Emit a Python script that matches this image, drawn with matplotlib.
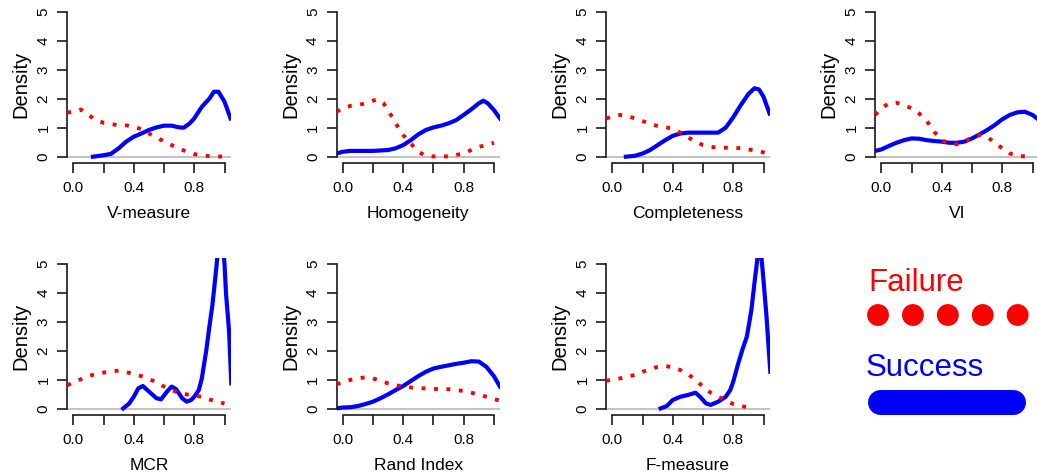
import matplotlib
matplotlib.use("Agg")
import matplotlib.pyplot as plt

plt.rcParams['font.family'] = ['Liberation Sans', 'DejaVu Sans']

# ---------------- data ----------------
titles = ["V-measure", "Homogeneity", "Completeness", "VI",
          "MCR", "Rand Index", "F-measure"]

vm_sx = [0.13, 0.2, 0.25, 0.3, 0.35, 0.4, 0.45, 0.5, 0.55, 0.6, 0.65, 0.7, 0.73, 0.77, 0.8, 0.85, 0.9, 0.93, 0.96, 1.0, 1.04]
vm_sy = [0.0, 0.05, 0.1, 0.29, 0.52, 0.69, 0.8, 0.92, 1.01, 1.07, 1.07, 1.01, 1.0, 1.15, 1.32, 1.72, 2.0, 2.24, 2.24, 1.9, 1.32]
vm_fx = [-0.04, 0.0, 0.05, 0.1, 0.15, 0.2, 0.25, 0.3, 0.35, 0.4, 0.45, 0.5, 0.55, 0.6, 0.65, 0.7, 0.75, 0.8, 0.85, 0.9, 0.95, 1.0]
vm_fy = [1.52, 1.55, 1.63, 1.44, 1.26, 1.17, 1.13, 1.08, 1.08, 1.03, 0.95, 0.8, 0.67, 0.52, 0.4, 0.29, 0.17, 0.09, 0.05, 0.02, 0.01, 0.0]

ho_sx = [-0.04, 0.0, 0.05, 0.1, 0.2, 0.3, 0.35, 0.4, 0.45, 0.5, 0.55, 0.6, 0.65, 0.7, 0.75, 0.8, 0.85, 0.9, 0.93, 0.96, 1.0, 1.04]
ho_sy = [0.11, 0.17, 0.2, 0.2, 0.2, 0.23, 0.29, 0.4, 0.57, 0.77, 0.92, 1.01, 1.07, 1.15, 1.26, 1.44, 1.63, 1.84, 1.93, 1.84, 1.61, 1.32]
ho_fx = [-0.04, 0.0, 0.05, 0.1, 0.15, 0.2, 0.23, 0.27, 0.3, 0.35, 0.4, 0.45, 0.5, 0.55, 0.6, 0.7, 0.75, 0.8, 0.85, 0.9, 0.95, 1.0]
ho_fy = [1.55, 1.67, 1.75, 1.78, 1.84, 1.93, 1.98, 1.84, 1.61, 1.15, 0.75, 0.46, 0.17, 0.03, 0.01, 0.01, 0.06, 0.11, 0.23, 0.34, 0.4, 0.48]

co_sx = [0.09, 0.15, 0.2, 0.25, 0.3, 0.35, 0.4, 0.45, 0.5, 0.6, 0.7, 0.75, 0.8, 0.85, 0.9, 0.94, 0.97, 1.0, 1.04]
co_sy = [0.0, 0.03, 0.11, 0.23, 0.4, 0.57, 0.72, 0.8, 0.83, 0.83, 0.83, 1.0, 1.36, 1.78, 2.16, 2.36, 2.32, 2.07, 1.49]
co_fx = [-0.04, 0.0, 0.05, 0.1, 0.15, 0.2, 0.25, 0.3, 0.35, 0.4, 0.45, 0.5, 0.55, 0.6, 0.65, 0.7, 0.75, 0.8, 0.85, 0.9, 0.95, 1.0, 1.04]
co_fy = [1.32, 1.38, 1.44, 1.40, 1.32, 1.23, 1.13, 1.06, 1.03, 0.95, 0.83, 0.67, 0.52, 0.4, 0.34, 0.31, 0.31, 0.31, 0.29, 0.25, 0.21, 0.15, 0.09]

vi_sx = [-0.04, 0.0, 0.05, 0.1, 0.15, 0.2, 0.25, 0.3, 0.35, 0.4, 0.45, 0.5, 0.55, 0.6, 0.65, 0.7, 0.75, 0.8, 0.85, 0.9, 0.95, 1.0, 1.04]
vi_sy = [0.2, 0.25, 0.37, 0.48, 0.57, 0.63, 0.62, 0.57, 0.54, 0.52, 0.48, 0.48, 0.52, 0.63, 0.77, 0.92, 1.09, 1.29, 1.44, 1.53, 1.55, 1.44, 1.28]
vi_fx = [-0.04, 0.0, 0.05, 0.1, 0.15, 0.2, 0.25, 0.3, 0.35, 0.4, 0.45, 0.5, 0.55, 0.6, 0.65, 0.7, 0.75, 0.8, 0.85, 0.9, 0.95, 1.0]
vi_fy = [1.44, 1.67, 1.84, 1.86, 1.78, 1.67, 1.49, 1.24, 0.86, 0.57, 0.44, 0.43, 0.52, 0.67, 0.75, 0.69, 0.48, 0.29, 0.11, 0.03, 0.01, 0.0]

mcr_sx = [0.33, 0.37, 0.4, 0.43, 0.46, 0.5, 0.55, 0.58, 0.62, 0.65, 0.68, 0.72, 0.75, 0.78, 0.8, 0.83, 0.85, 0.88, 0.9, 0.92, 0.94, 0.96, 0.975, 0.99, 1.0, 1.01, 1.03, 1.045]
mcr_sy = [0.02, 0.19, 0.42, 0.71, 0.79, 0.6, 0.37, 0.33, 0.6, 0.77, 0.68, 0.37, 0.25, 0.31, 0.42, 0.65, 1.05, 2.03, 2.83, 3.57, 4.55, 5.6, 6.2, 5.6, 5.0, 3.97, 2.7, 0.88]
mcr_fx = [-0.04, 0.0, 0.05, 0.1, 0.15, 0.2, 0.25, 0.3, 0.35, 0.4, 0.45, 0.5, 0.55, 0.6, 0.65, 0.7, 0.75, 0.8, 0.85, 0.9, 0.95, 1.0]
mcr_fy = [0.82, 0.9, 1.02, 1.13, 1.2, 1.25, 1.29, 1.32, 1.27, 1.2, 1.13, 1.03, 0.92, 0.77, 0.65, 0.56, 0.5, 0.46, 0.42, 0.33, 0.25, 0.19]

ri_sx = [-0.04, 0.0, 0.05, 0.1, 0.15, 0.2, 0.25, 0.3, 0.35, 0.4, 0.45, 0.5, 0.55, 0.6, 0.65, 0.7, 0.75, 0.8, 0.85, 0.9, 0.95, 1.0, 1.04]
ri_sy = [0.02, 0.05, 0.06, 0.1, 0.17, 0.25, 0.37, 0.5, 0.65, 0.79, 0.96, 1.13, 1.28, 1.39, 1.45, 1.5, 1.55, 1.59, 1.64, 1.63, 1.45, 1.13, 0.77]
ri_fx = [-0.04, 0.0, 0.05, 0.1, 0.15, 0.2, 0.25, 0.3, 0.35, 0.4, 0.45, 0.5, 0.55, 0.6, 0.65, 0.7, 0.75, 0.8, 0.85, 0.9, 0.95, 1.0, 1.04]
ri_fy = [0.86, 0.9, 1.0, 1.05, 1.09, 1.05, 0.97, 0.88, 0.82, 0.77, 0.74, 0.71, 0.71, 0.69, 0.68, 0.68, 0.65, 0.62, 0.56, 0.5, 0.42, 0.34, 0.29]

fm_sx = [0.32, 0.36, 0.4, 0.45, 0.5, 0.55, 0.58, 0.62, 0.65, 0.7, 0.75, 0.78, 0.8, 0.83, 0.86, 0.89, 0.92, 0.94, 0.96, 0.975, 0.985, 1.0, 1.02, 1.035, 1.045]
fm_sy = [0.02, 0.1, 0.31, 0.42, 0.48, 0.56, 0.42, 0.19, 0.14, 0.25, 0.42, 0.65, 0.94, 1.51, 2.03, 2.49, 3.4, 4.32, 5.18, 5.35, 5.3, 4.43, 3.17, 2.03, 1.28]
fm_fx = [-0.04, 0.0, 0.05, 0.1, 0.15, 0.2, 0.25, 0.3, 0.35, 0.4, 0.45, 0.5, 0.55, 0.6, 0.65, 0.7, 0.75, 0.8, 0.85, 0.9, 0.92]
fm_fy = [0.97, 1.0, 1.05, 1.11, 1.17, 1.28, 1.36, 1.45, 1.48, 1.43, 1.34, 1.2, 1.0, 0.77, 0.56, 0.42, 0.29, 0.17, 0.1, 0.06, 0.02]

success_x = [vm_sx, ho_sx, co_sx, vi_sx, mcr_sx, ri_sx, fm_sx]
success_y = [vm_sy, ho_sy, co_sy, vi_sy, mcr_sy, ri_sy, fm_sy]
failure_x = [vm_fx, ho_fx, co_fx, vi_fx, mcr_fx, ri_fx, fm_fx]
failure_y = [vm_fy, ho_fy, co_fy, vi_fy, mcr_fy, ri_fy, fm_fy]

x_ticks = [0.0, 0.2, 0.4, 0.6, 0.8, 1.0]
x_ticklabels = ["0.0", "", "0.4", "", "0.8", ""]
y_ticks = [0, 1, 2, 3, 4, 5]
legend_labels = ["Failure", "Success"]

RED = "#ff0000"
BLUE = "#0000ff"
AXC = "#1a1a1a"

# ---------------- layout ----------------
W, H = 1037, 476
fig = plt.figure(figsize=(W / 100, H / 100), dpi=100)

col_x0 = [73.3, 342.7, 612.3, 881.3]   # pixel of x=0
xscale = 151.2                         # pixels per unit x
rows = [(162.5, 156.6), (414.8, 157.1)]  # (bottom px, height px)


def add_px_axes(left, bottom, width, height):
    return fig.add_axes([left / W, 1 - bottom / H, width / W, height / H])


for i, name in enumerate(titles):
    r, c = divmod(i, 4)
    left = col_x0[c] - 0.04 * xscale
    bottom, height = rows[r]
    ax = add_px_axes(left, bottom, 1.08 * xscale, height)
    ax.set_xlim(-0.04, 1.04)
    ax.set_ylim(-0.2, 5.2)
    ax.axhline(0, color="#bebebe", lw=1.3, zorder=1)
    ax.plot(failure_x[i], failure_y[i], color=RED, lw=2.8,
            linestyle=(0, (1, 2.2)), dash_capstyle="butt", zorder=3)
    ax.plot(success_x[i], success_y[i], color=BLUE, lw=3.0, zorder=2,
            solid_joinstyle="round")
    for s in ("top", "right"):
        ax.spines[s].set_visible(False)
    ax.spines["left"].set_bounds(0, 5)
    ax.spines["bottom"].set_bounds(0, 1)
    for s in ("left", "bottom"):
        ax.spines[s].set_color(AXC)
        ax.spines[s].set_linewidth(1.2)
    ax.set_xticks(x_ticks)
    ax.set_xticklabels(x_ticklabels)
    ax.set_yticks(y_ticks)
    ax.set_yticklabels([str(v) for v in y_ticks])
    ax.tick_params(axis="both", direction="out", length=7, width=1.2,
                   color=AXC, labelsize=11, labelcolor="black")
    ax.tick_params(axis="x", pad=6)
    ax.tick_params(axis="y", pad=5, labelrotation=90)
    for lab in ax.get_yticklabels():
        lab.set_va("center")
    ax.set_xlabel(name, fontsize=12.5)
    ax.xaxis.set_label_coords(0.5, -0.275)
    ax.set_ylabel("Density", fontsize=14.5)
    ax.yaxis.set_label_coords(-0.225, 0.5)

# ---------------- legend panel ----------------
lg = add_px_axes(840, 430, 197, 180)
lg.set_xlim(840, 1037)
lg.set_ylim(430, 250)
lg.axis("off")
lg.text(868, 291, legend_labels[0], color=RED, fontsize=22.5,
        ha="left", va="baseline")
lg.text(866, 376, legend_labels[1], color=BLUE, fontsize=22.5,
        ha="left", va="baseline")
lg.plot([878, 1019], [315, 315], color=RED, lw=15.8,
        linestyle=(0, (0.001, 1.59)), dash_capstyle="round")
lg.plot([879.5, 1012.5], [401.7, 401.7], color=BLUE, lw=18,
        solid_capstyle="round")

fig.savefig("out.png", dpi=100)
